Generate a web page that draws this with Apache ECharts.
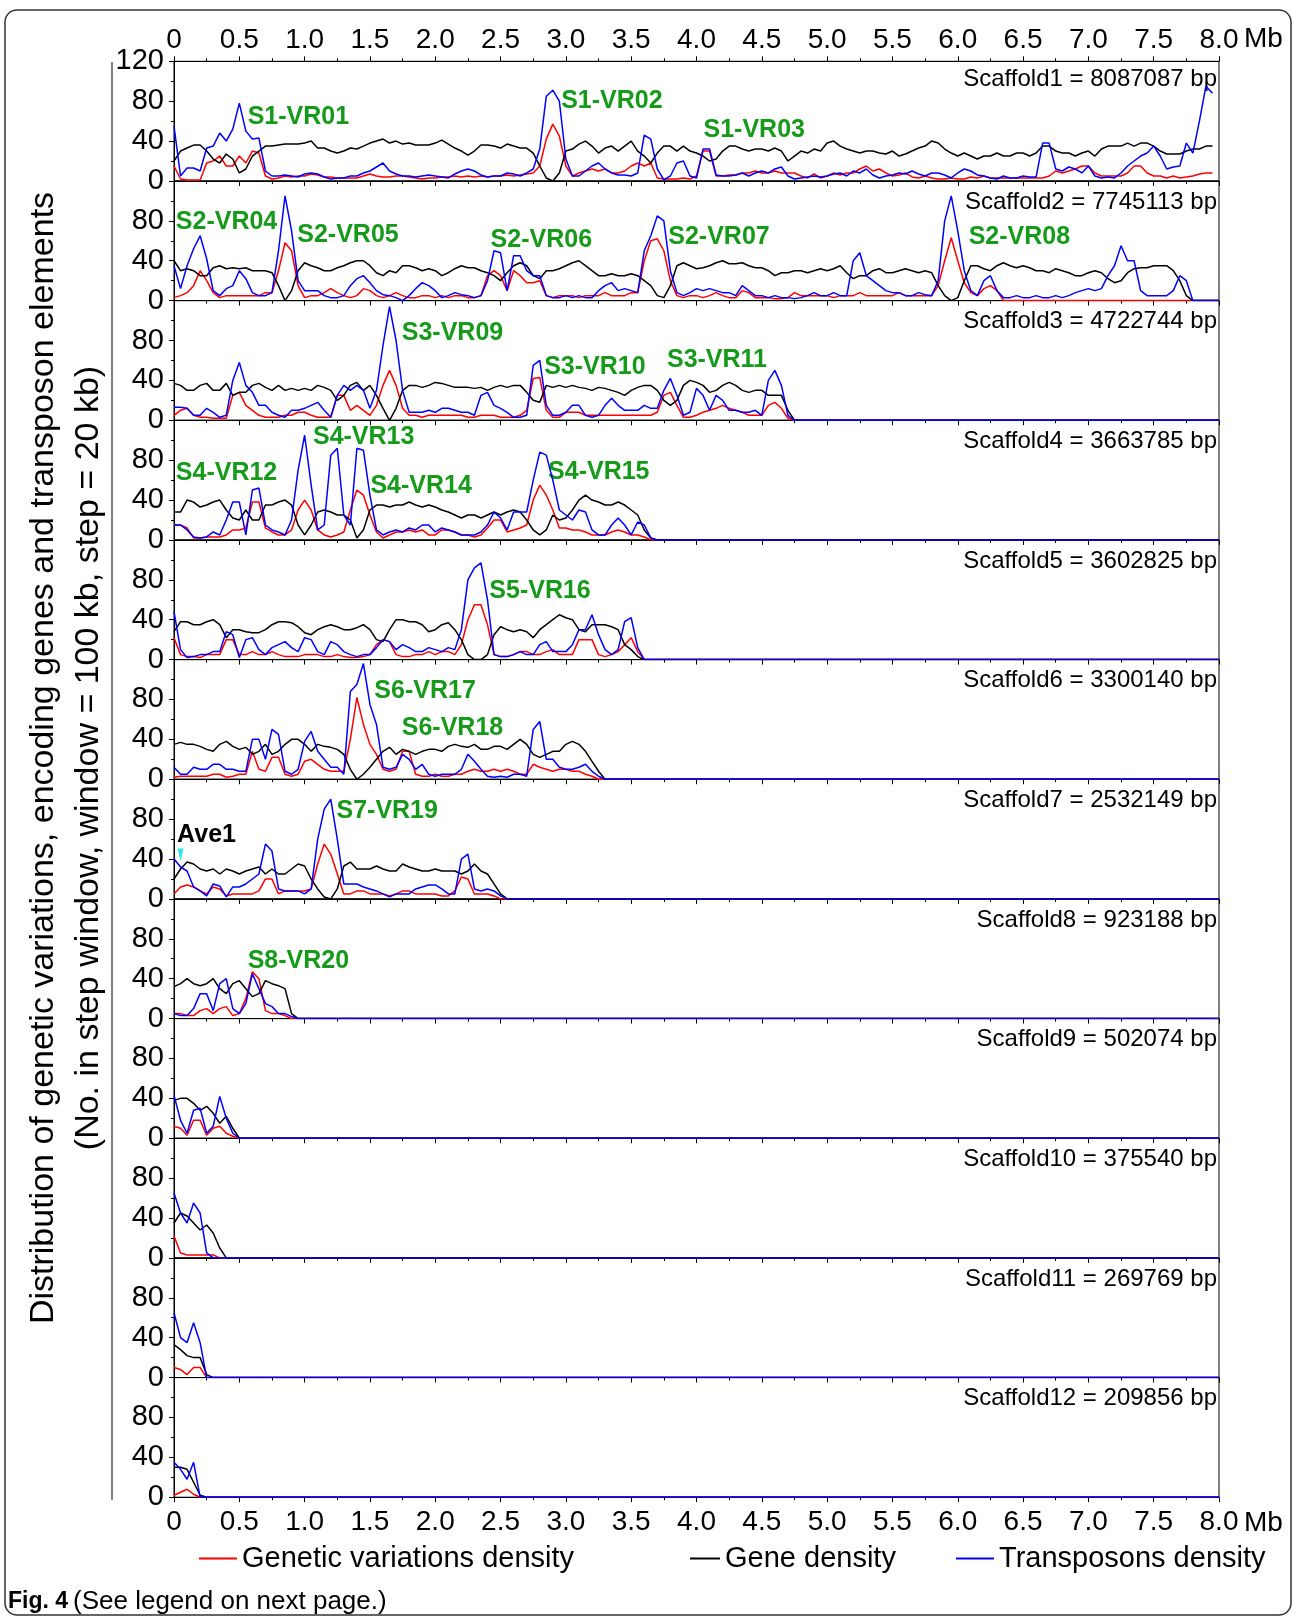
<!DOCTYPE html>
<html>
<head>
<meta charset="utf-8">
<title>Fig. 4</title>
<script src="https://cdn.jsdelivr.net/npm/echarts@6/dist/echarts.min.js"></script>
<style>
  html, body { margin: 0; padding: 0; background: #fff; }
  #main { width: 1295px; height: 1619px; }
</style>
</head>
<body>
<div id="main"></div>
<script>
// one value every 50 kb along each scaffold (x in Mb)
var STEP = 0.05;
var scaffoldBp = [8087087, 7745113, 4722744, 3663785, 3602825, 3300140, 2532149, 923188, 502074, 375540, 269769, 209856];

// red: genetic variations density
var gv1 = [15,2,1,1,1,18,20,25,15,15,25,18,30,28,5,2,3,5,4,5,
  5,7,6,4,4,3,3,3,3,5,7,5,4,4,5,5,4,3,2,3,
  3,4,4,5,4,5,4,5,4,5,5,6,5,6,7,8,15,42,57,45,
  15,5,8,10,12,10,12,8,8,10,15,18,15,18,3,2,2,2,3,2,
  5,30,30,5,5,6,6,8,8,10,8,8,10,8,8,8,5,3,7,3,
  5,8,6,8,8,12,15,10,12,8,5,6,8,4,3,5,3,2,2,3,
  2,2,4,3,5,3,3,3,3,3,3,3,3,3,5,10,8,10,12,15,
  15,8,5,5,5,5,8,15,15,8,5,5,3,5,3,4,5,7,8,8];
var gv2 = [3,5,8,15,30,20,8,3,5,5,5,5,5,5,8,8,30,58,50,15,
  3,5,5,8,12,8,5,3,5,12,10,5,3,5,8,5,3,3,5,5,
  3,5,3,5,5,3,3,5,25,30,25,10,30,25,18,18,20,5,3,5,
  5,5,3,5,5,5,8,5,5,5,8,8,40,60,62,50,20,5,3,5,
  5,3,5,8,5,3,3,10,8,3,3,3,2,2,3,8,5,5,5,5,
  5,3,5,5,5,8,5,5,5,5,5,8,5,5,5,5,5,15,40,63,
  40,18,8,5,12,15,10,0,0,0,0,0,0,0,0,0,0,0,0,0,
  0,0,0,0,0,0,0,0,0,0,0,0,0,0,0,0,0];
var gv3 = [5,10,12,5,3,3,2,2,2,25,28,15,10,5,3,3,3,5,5,8,
  8,5,3,3,3,25,25,10,15,10,5,15,35,50,35,12,5,5,3,5,
  5,5,5,5,5,3,3,5,5,5,3,3,3,5,10,42,43,10,3,3,
  8,8,8,5,5,5,5,5,5,5,5,5,5,5,8,25,28,15,3,3,
  5,8,10,12,15,12,10,8,5,5,5,15,18,12,2,0];
var gv4 = [15,15,12,2,2,3,3,3,5,10,10,12,38,38,12,8,5,5,10,30,
  40,30,10,5,3,5,8,30,50,45,25,8,2,5,8,8,10,8,10,5,
  5,10,10,8,5,5,3,5,12,20,20,8,10,12,15,40,55,45,30,12,
  12,10,10,8,5,5,5,8,10,8,5,5,3,0,0];
var gv5 = [22,5,3,3,2,5,5,5,20,20,5,5,8,5,5,8,5,3,3,3,
  5,5,5,3,3,5,3,2,2,3,5,15,20,18,5,3,3,5,5,8,
  5,8,8,5,15,40,55,55,35,5,3,3,5,8,8,5,5,8,10,5,
  5,5,20,20,20,5,3,5,8,15,22,8,0];
var gv6 = [2,3,3,3,3,3,5,5,2,3,5,5,28,10,8,22,22,5,3,5,
  18,20,15,10,8,8,8,40,82,55,35,25,10,8,10,28,28,5,3,3,
  5,3,3,5,5,8,10,8,8,10,8,10,8,5,5,15,12,10,8,10,
  10,8,8,5,3,0,0];
var gv7 = [5,12,14,12,8,5,12,10,3,5,5,5,5,8,20,20,5,8,8,8,
  8,10,35,55,45,25,5,5,8,8,5,5,5,3,5,8,8,5,5,5,
  5,3,3,8,22,20,5,5,5,3,0,0];
var gv8 = [5,5,3,3,8,10,5,10,12,3,5,20,47,40,8,5,5,3,0,0];
var gv9 = [12,10,3,18,18,3,10,12,5,2,0];
var gv10 = [22,5,3,3,3,3,3,0,0];
var gv11 = [10,8,3,10,10,0,0];
var gv12 = [2,5,8,3,0,0];

// black: gene density
var gene1 = [20,30,33,36,36,30,22,18,27,22,8,12,25,30,35,35,36,37,37,37,
  38,40,33,33,30,28,30,33,32,35,38,40,42,38,40,37,38,36,36,36,
  38,41,37,33,30,26,30,36,36,35,33,37,35,33,33,28,15,3,0,8,
  30,32,37,40,35,28,33,35,30,35,40,30,25,18,28,35,35,30,35,30,
  28,25,20,22,30,35,35,32,30,32,32,30,33,30,20,25,30,28,32,30,
  38,40,35,32,30,28,30,30,28,27,30,25,27,30,33,35,40,38,32,28,
  25,28,25,22,25,25,28,25,25,28,28,25,28,35,35,30,28,28,25,28,
  30,25,32,35,35,35,38,35,38,38,35,30,27,27,27,30,32,32,35,35];
var gene2 = [40,30,32,30,25,25,33,35,32,33,32,33,30,30,30,28,15,0,10,30,
  38,35,33,30,30,33,35,38,40,40,35,28,25,30,28,35,35,33,30,32,
  30,25,28,32,35,33,33,30,28,25,20,28,35,38,35,25,22,30,30,32,
  35,38,40,35,30,25,25,27,25,25,27,25,20,15,5,3,15,35,38,35,
  32,33,35,38,40,37,37,38,35,33,33,30,25,28,28,30,30,28,30,32,
  30,32,35,28,22,25,25,30,32,28,28,30,32,30,28,30,28,15,5,0,
  3,20,35,35,32,30,35,38,35,33,35,33,30,30,28,32,30,28,25,25,
  28,30,28,22,18,20,28,32,33,33,35,35,35,30,20,5,0];
var gene3 = [37,35,30,30,35,37,30,30,37,25,28,28,35,37,33,30,35,30,32,30,
  32,30,35,33,30,20,25,35,38,30,35,25,12,0,12,30,35,35,33,35,
  38,37,35,33,33,33,32,33,30,33,35,33,35,35,28,20,18,35,33,35,
  33,35,33,32,30,33,32,30,28,25,30,33,35,35,30,20,15,20,35,40,
  38,35,28,30,35,38,35,30,28,30,30,25,25,25,10,0];
var gene4 = [28,28,40,38,33,35,38,40,30,22,20,30,20,20,35,35,38,40,35,15,
  5,15,28,30,28,25,25,20,2,10,30,35,35,33,35,35,38,35,33,35,
  33,30,28,25,22,25,25,22,25,28,25,28,30,28,20,10,5,10,25,20,
  22,30,40,45,40,38,35,35,38,35,30,25,10,2,0];
var gene5 = [28,38,38,35,35,38,40,35,22,30,30,28,27,27,30,35,38,38,37,33,
  27,25,30,33,35,33,30,30,32,35,30,20,18,30,40,40,38,38,35,28,
  30,35,37,30,20,5,0,0,5,25,33,30,28,30,28,22,30,35,40,45,
  42,40,30,28,35,35,35,33,30,15,10,3,0];
var gene6 = [35,37,35,35,33,30,28,35,38,33,30,32,25,28,35,25,28,35,40,40,
  35,28,35,33,32,30,25,10,0,5,12,20,28,32,25,30,28,25,28,30,
  30,28,33,35,33,32,35,30,30,33,33,30,35,40,35,25,22,25,28,28,
  35,38,35,28,18,8,0];
var gene7 = [20,30,37,35,30,28,30,25,30,28,25,28,30,32,25,30,25,25,30,35,
  33,20,10,2,0,10,33,37,30,30,30,33,30,28,28,35,32,30,28,28,
  30,28,28,28,25,28,35,28,25,15,5,0];
var gene8 = [32,35,40,35,33,35,40,30,25,35,38,30,22,25,38,35,33,30,5,0];
var gene9 = [38,40,40,35,28,32,25,15,22,10,0];
var gene10 = [35,45,42,35,28,33,25,10,0];
var gene11 = [33,28,22,20,20,3,0];
var gene12 = [30,30,28,15,2,0];

// blue: transposons density
var te1 = [55,5,13,13,10,33,35,48,40,52,78,50,42,43,10,5,5,6,5,4,
  7,8,7,4,2,3,3,5,5,8,10,14,18,10,7,5,5,4,5,6,
  5,4,3,7,10,12,10,6,4,5,5,8,7,5,8,12,32,85,91,80,
  22,5,5,10,15,18,12,8,6,6,5,8,46,42,12,1,5,18,20,5,
  3,32,32,6,5,5,6,8,5,8,10,8,12,14,5,2,3,4,5,4,
  5,7,8,5,10,8,12,6,3,5,6,8,7,10,7,5,8,8,6,3,
  8,12,10,6,5,3,2,5,3,3,5,4,4,38,38,12,10,14,12,8,
  15,5,3,4,3,8,15,20,25,28,35,25,12,14,15,38,28,60,95,88];
var te2 = [35,12,35,52,65,42,10,5,12,15,30,22,8,5,5,8,50,105,70,20,
  10,10,10,5,3,3,5,15,22,25,18,10,6,5,3,0,5,12,18,15,
  10,3,5,8,6,5,3,5,20,50,48,10,45,45,30,25,25,5,3,3,
  5,3,5,3,3,10,15,18,10,12,10,8,50,65,85,80,30,8,5,8,
  12,10,12,10,8,8,5,15,10,5,5,3,5,3,3,2,3,5,8,5,
  5,8,5,5,40,48,25,20,15,10,8,8,5,5,8,6,5,20,80,105,
  70,30,10,5,20,25,10,3,3,5,3,3,5,3,3,5,3,5,8,10,
  12,10,12,25,35,55,40,40,10,5,5,5,5,10,25,20,0];
var te3 = [13,13,12,5,5,12,8,3,5,40,58,35,28,15,15,8,5,3,10,10,
  12,15,18,10,3,25,35,30,35,30,12,30,75,114,80,30,8,8,8,10,
  8,12,12,10,8,8,5,25,28,15,12,8,3,3,5,55,60,15,5,5,
  8,15,15,5,3,5,15,22,15,10,10,10,15,12,12,30,42,25,5,8,
  32,25,10,25,20,10,10,8,8,10,5,40,50,35,5,0];
var te4 = [15,15,10,3,2,3,8,5,20,38,38,5,50,52,15,10,8,5,20,70,
  105,55,10,15,85,92,25,15,92,90,45,10,5,8,10,8,12,10,15,15,
  8,12,10,8,5,5,5,8,15,28,22,10,28,28,28,60,88,85,60,30,
  25,20,30,28,10,5,5,15,22,15,5,18,15,2,0];
var te5 = [48,10,2,3,5,5,8,8,28,25,2,20,22,10,5,12,15,18,12,8,
  22,20,8,5,18,15,8,5,3,5,5,12,20,18,10,15,12,8,8,12,
  10,8,12,10,30,80,92,97,60,5,3,3,5,8,5,5,15,18,8,8,
  8,15,30,30,45,25,10,5,10,38,42,12,0];
var te6 = [12,5,5,12,10,10,15,15,10,10,8,8,40,40,20,50,45,8,5,10,
  38,48,28,20,12,12,5,88,95,116,75,55,12,10,12,25,20,10,15,5,
  3,5,5,5,10,25,18,10,3,2,3,2,5,5,3,50,58,20,20,12,
  10,10,12,15,8,3,0];
var te7 = [40,32,28,12,8,3,15,13,2,12,12,15,20,25,55,48,10,8,8,8,
  5,10,60,90,100,60,15,15,15,12,10,8,5,2,5,5,5,10,12,14,
  14,10,5,5,40,45,10,8,10,8,3,0];
var te8 = [5,3,3,10,25,25,8,35,40,10,5,15,45,30,15,12,5,5,2,0];
var te9 = [43,18,5,28,30,5,12,42,20,5,0];
var te10 = [65,45,35,55,45,5,0,0,0];
var te11 = [65,40,35,55,35,0,0];
var te12 = [35,28,18,35,0,0];

var variations = [gv1, gv2, gv3, gv4, gv5, gv6, gv7, gv8, gv9, gv10, gv11, gv12];
var genes = [gene1, gene2, gene3, gene4, gene5, gene6, gene7, gene8, gene9, gene10, gene11, gene12];
var transposons = [te1, te2, te3, te4, te5, te6, te7, te8, te9, te10, te11, te12];

// [panel, Mb, value, text] - anchor of the left edge of each region label
var regionLabels = [
  [0, 0.56, 64, 'S1-VR01'], [0, 2.96, 80, 'S1-VR02'], [0, 4.05, 51, 'S1-VR03'],
  [1, 0.01, 79, 'S2-VR04'], [1, 0.94, 66, 'S2-VR05'], [1, 2.42, 61, 'S2-VR06'],
  [1, 3.78, 64, 'S2-VR07'], [1, 6.08, 64, 'S2-VR08'],
  [2, 1.74, 87, 'S3-VR09'], [2, 2.83, 53, 'S3-VR10'], [2, 3.77, 60, 'S3-VR11'],
  [3, 0.01, 67, 'S4-VR12'], [3, 1.06, 103, 'S4-VR13'], [3, 1.5, 54, 'S4-VR14'], [3, 2.86, 68, 'S4-VR15'],
  [4, 2.41, 69, 'S5-VR16'],
  [5, 1.53, 88, 'S6-VR17'], [5, 1.74, 51, 'S6-VR18'],
  [6, 1.24, 88, 'S7-VR19'],
  [7, 0.56, 58, 'S8-VR20']
];
var ave1Label = [0.02, 64, 'Ave1'];
var ave1Mark = [0.05, 44];

var NAMES = ['Genetic variations density', 'Gene density', 'Transposons density'];
var COLORS = ['#ff0000', '#000000', '#0000ff'];
var GREEN = '#159a1a';
var FONT = '"Liberation Sans", Arial, sans-serif';

// layout (px)
var LEFT = 174, PLOT_W = 1045, PLOT_TOP = 61.3, PANEL_H = 119.66;

function fmtMb(v) { return v === 0 ? '0' : v.toFixed(1); }

function toPoints(values, bp) {
  var pts = values.map(function (v, i) { return [Math.round(i * STEP * 100) / 100, v]; });
  if (bp < 8e6) pts.push([8, 0]);   // empty tail of the axis
  return pts;
}

function xAxisFor(i, onTop) {
  return {
    gridIndex: i, type: 'value', min: 0, max: 8, interval: 0.5,
    position: onTop ? 'top' : 'bottom',
    axisLine: { show: true, onZero: false, lineStyle: { color: '#000', width: 1 } },
    axisTick: { show: true, length: 5, lineStyle: { color: '#000' } },
    minorTick: { show: true, splitNumber: 2, length: 3, lineStyle: { color: '#000' } },
    splitLine: { show: false },
    axisLabel: {
      show: onTop || i === 11, margin: onTop ? 7 : 11, fontSize: 28, fontFamily: FONT,
      color: '#000', formatter: fmtMb
    }
  };
}

function yLabelFmt(p) {
  return function (v) { return (v === 120 && p > 0) ? '' : String(v); };
}

function labelStyle(color) {
  return {
    show: true, position: 'right', distance: 0, opacity: 1,
    formatter: function (p) { return p.data[2]; },
    fontSize: 25, fontWeight: 'bold', fontFamily: FONT, color: color
  };
}

var grids = [], xAxes = [], yAxes = [], series = [], graphics = [];

for (var i = 0; i < 12; i++) {
  var panelTop = PLOT_TOP + i * PANEL_H;
  grids.push({ left: LEFT, width: PLOT_W, top: panelTop, height: PANEL_H, show: true, borderColor: '#000', borderWidth: 1 });
  xAxes.push(xAxisFor(i, false));
  yAxes.push({
    gridIndex: i, type: 'value', min: 0, max: 120, interval: 40,
    axisLine: { show: true, lineStyle: { color: '#000', width: 1 } },
    axisTick: { show: true, length: 5, lineStyle: { color: '#000' } },
    minorTick: { show: true, splitNumber: 2, length: 3, lineStyle: { color: '#000' } },
    splitLine: { show: false },
    axisLabel: { margin: 10, fontSize: 29, fontFamily: FONT, color: '#000', showMaxLabel: true, formatter: yLabelFmt(i) }
  });

  [variations[i], genes[i], transposons[i]].forEach(function (arr, k) {
    series.push({
      name: NAMES[k], type: 'line', xAxisIndex: i, yAxisIndex: i,
      data: toPoints(arr, scaffoldBp[i]), symbol: 'none', showSymbol: false,
      lineStyle: { color: COLORS[k], width: 1.5 }, itemStyle: { color: COLORS[k] }
    });
  });

  var labs = regionLabels.filter(function (r) { return r[0] === i; });
  if (labs.length) {
    series.push({
      type: 'scatter', xAxisIndex: i, yAxisIndex: i, symbolSize: 1,
      itemStyle: { color: 'rgba(0,0,0,0)', opacity: 1 },
      data: labs.map(function (r) { return [r[1], r[2], r[3]]; }),
      label: labelStyle(GREEN)
    });
  }

  graphics.push({
    type: 'text', x: LEFT + PLOT_W - 2, y: panelTop + (i === 0 ? 18 : 21),
    style: {
      text: 'Scaffold' + (i + 1) + ' = ' + scaffoldBp[i] + ' bp', font: '24px ' + FONT, fill: '#000',
      textAlign: 'right', textVerticalAlign: 'middle'
    }
  });
}

// labelled top axis of the first panel
xAxes.push(xAxisFor(0, true));

// Ave1 on scaffold 7
series.push({
  type: 'scatter', xAxisIndex: 6, yAxisIndex: 6, symbol: 'triangle', symbolRotate: 180, symbolSize: [6, 13],
  itemStyle: { color: '#2ee6e8', opacity: 1 }, data: [ave1Mark]
});
series.push({
  type: 'scatter', xAxisIndex: 6, yAxisIndex: 6, symbolSize: 1, itemStyle: { color: 'rgba(0,0,0,0)', opacity: 1 },
  data: [ave1Label], label: labelStyle('#000')
});

var bottomY = PLOT_TOP + 12 * PANEL_H;

function txt(x, y, s, font, rot) {
  var o = { type: 'text', x: x, y: y,
    style: { text: s, font: font, fill: '#000', textAlign: rot ? 'center' : 'left', textVerticalAlign: 'middle' } };
  if (rot) o.rotation = rot;
  return o;
}

graphics.push(
  { type: 'rect', shape: { x: 5, y: 10, width: 1286, height: 1605, r: 12 },
    style: { fill: 'none', stroke: '#333', lineWidth: 1.5 } },
  { type: 'line', shape: { x1: 112, y1: 62, x2: 112, y2: 1500 }, style: { stroke: '#555', lineWidth: 1.5 } },
  txt(44, 758, 'Distribution of genetic variations, encoding genes and transposon elements', '34px ' + FONT, Math.PI / 2),
  txt(89, 758, '(No. in step window, window = 100 kb, step = 20 kb)', '34px ' + FONT, Math.PI / 2),
  txt(1244, 39, 'Mb', '28px ' + FONT),
  txt(1244, bottomY + 26, 'Mb', '28px ' + FONT),
  txt(8, 1602, 'Fig. 4', 'bold 23px ' + FONT),
  txt(73, 1602, '(See legend on next page.)', '26px ' + FONT)
);

function legendAt(name, left, w) {
  return {
    data: [name], left: left, top: 1539, icon: 'rect', itemWidth: w, itemHeight: 2, selectedMode: false,
    textStyle: { fontSize: 29, fontFamily: FONT, color: '#000' }
  };
}

var chart = echarts.init(document.getElementById('main'));
var option = {
  animation: false,
  backgroundColor: '#fff',
  grid: grids,
  xAxis: xAxes,
  yAxis: yAxes,
  legend: [legendAt(NAMES[0], 194, 38), legendAt(NAMES[1], 685, 30), legendAt(NAMES[2], 951, 38)],
  series: series,
  graphic: graphics
};
option && chart.setOption(option);
</script>
</body>
</html>
